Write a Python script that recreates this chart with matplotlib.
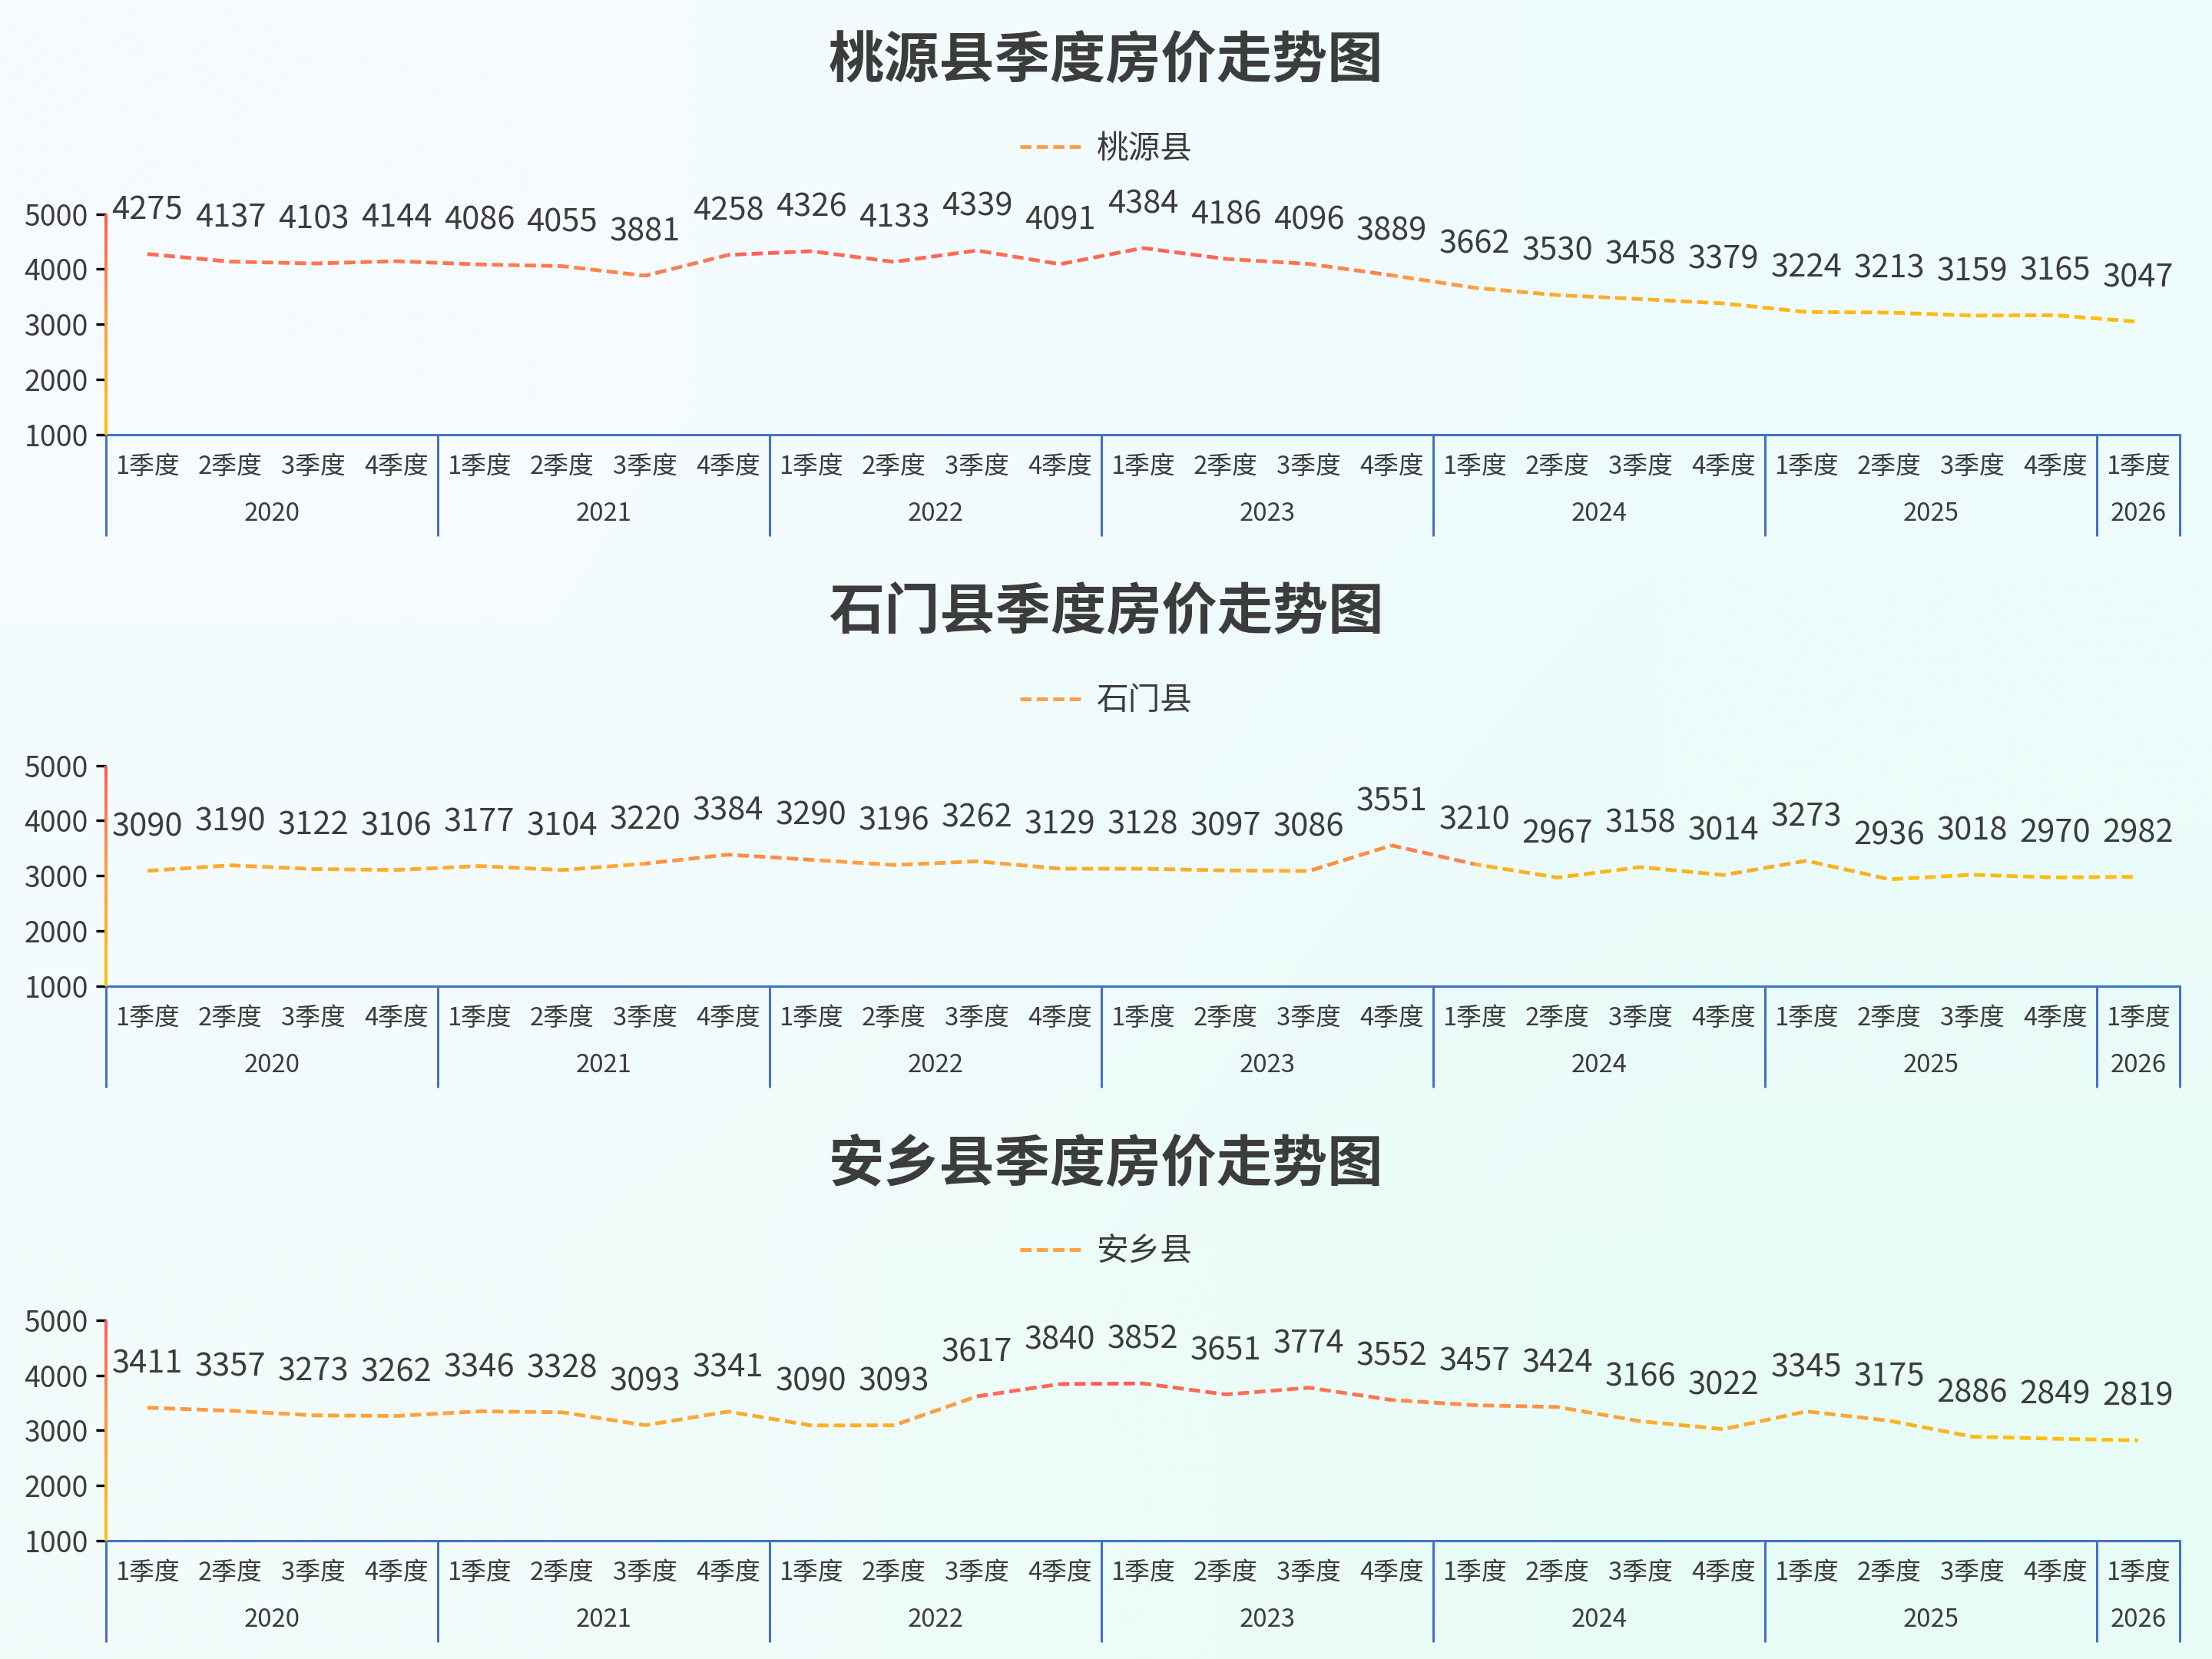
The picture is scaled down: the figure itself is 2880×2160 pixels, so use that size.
import numpy as np
import matplotlib
matplotlib.use('Agg')
import matplotlib.pyplot as plt
from matplotlib.colors import LinearSegmentedColormap, Normalize, to_rgb
from matplotlib.lines import Line2D
from matplotlib.transforms import blended_transform_factory

plt.rcParams['font.family'] = ['Noto Sans CJK SC', 'DejaVu Sans']

# ---------------- data ----------------
years = ['2020', '2021', '2022', '2023', '2024', '2025', '2026']
quarters_per_year = [4, 4, 4, 4, 4, 4, 1]
quarter_names = ['1季度', '2季度', '3季度', '4季度']
counties = ['桃源县', '石门县', '安乡县']
titles = ['桃源县季度房价走势图', '石门县季度房价走势图', '安乡县季度房价走势图']

taoyuan = [4275, 4137, 4103, 4144, 4086, 4055, 3881, 4258, 4326, 4133, 4339, 4091,
           4384, 4186, 4096, 3889, 3662, 3530, 3458, 3379, 3224, 3213, 3159, 3165, 3047]
shimen = [3090, 3190, 3122, 3106, 3177, 3104, 3220, 3384, 3290, 3196, 3262, 3129,
          3128, 3097, 3086, 3551, 3210, 2967, 3158, 3014, 3273, 2936, 3018, 2970, 2982]
anxiang = [3411, 3357, 3273, 3262, 3346, 3328, 3093, 3341, 3090, 3093, 3617, 3840,
           3852, 3651, 3774, 3552, 3457, 3424, 3166, 3022, 3345, 3175, 2886, 2849, 2819]
series = [taoyuan, shimen, anxiang]

y_ticks = [1000, 2000, 3000, 4000, 5000]

# ---------------- style ----------------
TEXT = '#3c3c3c'
AXIS_BLUE = '#4472C4'
grad = LinearSegmentedColormap.from_list('grad', ['#FFC107', '#FFA040', '#FF5A5A'])
DASH = (3.0, 1.4)
LW = 1.75

fig = plt.figure(figsize=(14.4, 10.8), dpi=200)

# background gradient
bg = fig.add_axes([0, 0, 1, 1], zorder=-10)
c_tl, c_tr, c_bl, c_br = [np.array(to_rgb(c)) for c in ('#f6fbff', '#eefcfc', '#f2fcfb', '#e8fcf7')]
img = np.array([[c_tl, c_tr], [c_bl, c_br]])
bg.imshow(img, extent=[0, 1, 0, 1], aspect='auto', interpolation='bilinear')
bg.axis('off')

bottoms = [0.738, 0.4056, 0.0713]
title_y = [0.9627, 0.6303, 0.2978]
legend_y = [0.9100, 0.5775, 0.2452]
left, width, height = 0.0479, 0.9375, 0.133
axis_w = 3.6 / 2880  # width of gradient y-axis line (figure fraction)

# category labels
q_labels = []
for y, n in zip(years, quarters_per_year):
    q_labels += quarter_names[:n]
x = np.arange(len(q_labels))

for k in range(3):
    vals = np.array(series[k], dtype=float)
    ax = fig.add_axes([left, bottoms[k], width, height])
    ax.patch.set_alpha(0)
    ax.set_xlim(-0.5, len(x) - 0.5)
    ax.set_ylim(y_ticks[0], y_ticks[-1])

    # spines
    for s in ('top', 'right', 'left'):
        ax.spines[s].set_visible(False)
    ax.spines['bottom'].set_color(AXIS_BLUE)
    ax.spines['bottom'].set_linewidth(1.1)

    # gradient y axis line (image strip)
    ynorm = Normalize(y_ticks[0], y_ticks[-1])
    gax = fig.add_axes([left - axis_w / 2, bottoms[k], axis_w, height], zorder=5)
    strip = np.linspace(1, 0, 256).reshape(-1, 1)
    gax.imshow(strip, cmap=grad, vmin=0, vmax=1, aspect='auto', interpolation='bilinear')
    gax.axis('off')

    ax.set_yticks(y_ticks)
    ax.set_yticklabels([str(t) for t in y_ticks])
    ax.tick_params(axis='y', length=4.7, width=1.2, pad=3.6, labelsize=13.5, labelcolor=TEXT)
    for t, v in zip(ax.yaxis.get_major_ticks(), y_ticks):
        t.tick1line.set_color(grad(ynorm(v)))

    ax.set_xticks(x)
    ax.set_xticklabels(q_labels)
    ax.tick_params(axis='x', length=0, pad=9.5, labelsize=11.8, labelcolor=TEXT)

    # year labels and separators
    tr_x = blended_transform_factory(ax.transData, ax.transAxes)
    start = 0
    bounds = [-0.5]
    for yname, n in zip(years, quarters_per_year):
        center = start + (n - 1) / 2
        ax.text(center, -0.36, yname, transform=tr_x, ha='center', va='center',
                fontsize=11.8, color=TEXT)
        start += n
        bounds.append(start - 0.5)
    for b in bounds:
        ax.plot([b, b], [0, -0.46], transform=tr_x, color=AXIS_BLUE, lw=1.1,
                clip_on=False, solid_capstyle='butt')

    # dashed gradient line (color by series min..max)
    vnorm = Normalize(vals.min(), vals.max())
    pts = ax.transData.transform(np.column_stack([x, vals]))
    seglen = np.hypot(np.diff(pts[:, 0]), np.diff(pts[:, 1])) * 72.0 / fig.dpi
    cum = np.concatenate([[0], np.cumsum(seglen)])
    for i in range(len(x) - 1):
        col = grad(vnorm((vals[i] + vals[i + 1]) / 2))
        ax.plot(x[i:i + 2], vals[i:i + 2], color=col, lw=LW,
                linestyle=(cum[i] / LW, DASH), dash_capstyle='butt', zorder=4)

    # data labels
    for xi, v in zip(x, series[k]):
        ax.annotate(str(v), (xi, v), xytext=(0, 20.5), textcoords='offset points',
                    ha='center', va='center', fontsize=15, color=TEXT)

    # title & legend
    fig.text(0.5, title_y[k], titles[k], ha='center', va='center', fontsize=26,
             fontweight='bold', color=TEXT)
    handle = Line2D([], [], color='#FF9F43', lw=LW, linestyle=(0, DASH))
    leg = fig.legend(handles=[handle], labels=[counties[k]], loc='center',
                     bbox_to_anchor=(0.5, legend_y[k]), frameon=False, fontsize=15,
                     handlelength=1.9, handletextpad=0.5)
    for t in leg.get_texts():
        t.set_color(TEXT)

fig.savefig('out.png', dpi=200)
